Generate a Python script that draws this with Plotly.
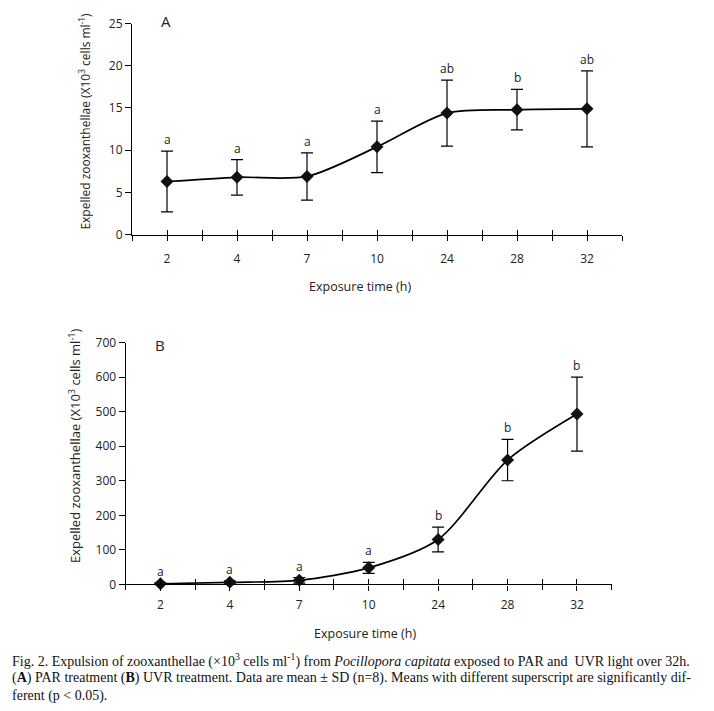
import plotly.graph_objects as go

# ---------------- data ----------------
times = ["2", "4", "7", "10", "24", "28", "32"]

par_mean = [6.3, 6.8, 6.9, 10.4, 14.4, 14.8, 14.9]
par_sd = [3.6, 2.1, 2.8, 3.05, 3.9, 2.4, 4.5]
par_letters = ["a", "a", "a", "a", "ab", "b", "ab"]

uvr_mean = [2, 6, 12, 48, 130, 360, 493]
uvr_sd = [3, 4, 8, 16, 36, 60, 107]
uvr_letters = ["a", "a", "a", "a", "b", "b", "b"]

y1_ticks = [0, 5, 10, 15, 20, 25]
y2_ticks = [0, 100, 200, 300, 400, 500, 600, 700]

ytitle = "Expelled zooxanthellae (X10<sup>3</sup> cells ml<sup>-1</sup>)"
xtitle = "Exposure time (h)"

# ---------------- geometry ----------------
FW, FH = 714, 711
OX, OY, SY = 8.0, 17.5, 0.975   # observed page offset / scale

def dx(xr):  # reference pixel -> paper x
    return (xr - OX) / FW

def dy(yr):  # reference pixel -> paper y
    return 1 - ((yr - OY) / SY) / FH

idx = list(range(len(times)))
bounds = [i - 0.5 for i in range(len(times) + 1)]
half_ticks = sorted(idx + bounds)

FONT = "Open Sans"
fig = go.Figure()

def add_panel(mean, sd, xa, ya):
    fig.add_trace(go.Scatter(
        x=idx, y=mean, xaxis=xa, yaxis=ya, mode="lines+markers",
        line=dict(color="black", width=1.7, shape="spline", smoothing=0.8),
        marker=dict(symbol="diamond", size=10, color="#111"),
        error_y=dict(type="data", array=sd, visible=True, color="black",
                     thickness=1.2, width=6),
        showlegend=False, cliponaxis=False,
    ))

add_panel(par_mean, par_sd, "x", "y")
add_panel(uvr_mean, uvr_sd, "x2", "y2")

axis_common = dict(showline=True, linecolor="black", linewidth=1.2,
                   showgrid=False, zeroline=False, ticks="outside",
                   tickcolor="black", tickwidth=1.2,
                   tickfont=dict(family=FONT, size=12, color="#222"))

def overlay(base, anchor, vals, side):
    return dict(overlaying=base, anchor=anchor, range=[-0.5, 6.5],
                tickmode="array", tickvals=vals, ticks=side, ticklen=5,
                tickcolor="black", tickwidth=1.2, showticklabels=False,
                showline=False, showgrid=False, zeroline=False)

fig.update_layout(
    width=FW, height=FH, margin=dict(l=0, r=0, t=0, b=0),
    paper_bgcolor="white", plot_bgcolor="white",
    font=dict(family=FONT, color="#222"),
    xaxis=dict(domain=[dx(132), dx(622)], anchor="y", range=[-0.5, 6.5],
               tickmode="array", tickvals=idx, ticktext=times,
               ticklen=5, ticklabelstandoff=8, **axis_common),
    yaxis=dict(domain=[dy(235), dy(24)], anchor="x", range=[0, 25],
               tickmode="array", tickvals=y1_ticks, ticklen=6, **axis_common),
    xaxis3=overlay("x", "y", half_ticks, "inside"),
    xaxis5=overlay("x", "y", bounds, "outside"),
    xaxis2=dict(domain=[dx(125.7), dx(611.7)], anchor="y2", range=[-0.5, 6.5],
                tickmode="array", tickvals=idx, ticktext=times,
                ticklen=5, ticklabelstandoff=4, **axis_common),
    yaxis2=dict(domain=[dy(584.3), dy(342.7)], anchor="x2", range=[0, 700],
                tickmode="array", tickvals=y2_ticks, ticklen=6, **axis_common),
    xaxis4=overlay("x2", "y2", half_ticks, "inside"),
    xaxis6=overlay("x2", "y2", bounds, "outside"),
)

for xa, ya in [("x3", "y"), ("x5", "y"), ("x4", "y2"), ("x6", "y2")]:
    fig.add_trace(go.Scatter(x=[None], y=[None], xaxis=xa, yaxis=ya,
                             showlegend=False, hoverinfo="skip"))

ann = []
for i, (m, s, t) in enumerate(zip(par_mean, par_sd, par_letters)):
    ann.append(dict(x=i, y=m + s, xref="x", yref="y", text=t, showarrow=False,
                    xanchor="center", yanchor="bottom", yshift=1,
                    font=dict(family=FONT, size=12, color="#222")))
for i, (m, s, t) in enumerate(zip(uvr_mean, uvr_sd, uvr_letters)):
    ann.append(dict(x=i, y=m + s, xref="x2", yref="y2", text=t, showarrow=False,
                    xanchor="center", yanchor="bottom", yshift=1,
                    font=dict(family=FONT, size=12, color="#222")))

def lab(xr, yr, text, size, angle=0):
    return dict(x=dx(xr), y=dy(yr), xref="paper", yref="paper", text=text,
                textangle=angle, showarrow=False, xanchor="center",
                yanchor="middle", font=dict(family=FONT, size=size, color="#222"))

ann += [
    lab(85, 122, ytitle, 12.0, -90),
    lab(75, 446, ytitle, 13.0, -90),
    lab(360, 287, xtitle, 12.5),
    lab(365, 633, xtitle, 12.5),
    lab(166, 21, "A", 15),
    lab(160, 345, "B", 15),
]

caption = [
    "Fig. 2. Expulsion of zooxanthellae (×10<sup>3</sup> cells ml<sup>-1</sup>) from "
    "<i>Pocillopora capitata</i> exposed to PAR and  UVR light over 32h.",
    "(<b>A</b>) PAR treatment (<b>B</b>) UVR treatment. Data are mean ± SD (n=8). "
    "Means with different superscript are significantly dif-",
    "ferent (p &lt; 0.05).",
]
for line, yc in zip(caption, [660, 678, 696]):
    ann.append(dict(x=dx(10), y=dy(yc), xref="paper", yref="paper",
                    text=line, showarrow=False, xanchor="left", yanchor="middle",
                    font=dict(family="Liberation Serif", size=14.0, color="#111")))

fig.update_layout(annotations=ann)
fig.write_html("out.html")
